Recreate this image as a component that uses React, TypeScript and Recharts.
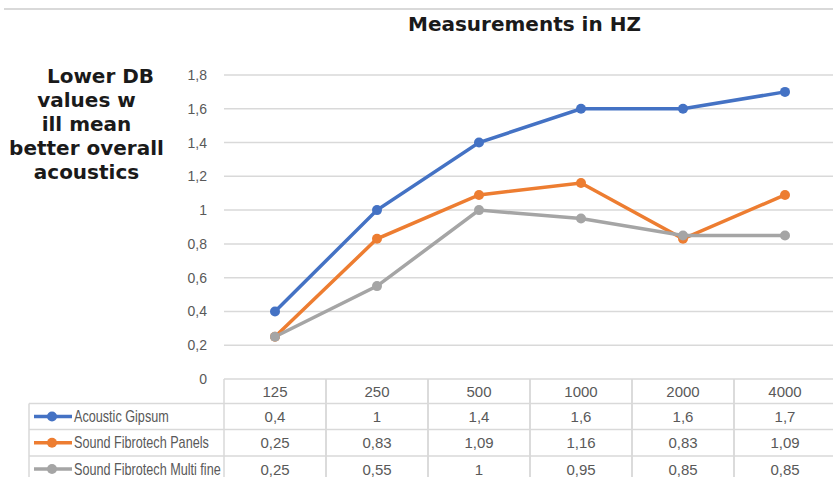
import React from 'react';
import { LineChart, Line, XAxis, YAxis, CartesianGrid } from 'recharts';

const categories = ['125', '250', '500', '1000', '2000', '4000'];
const acousticGipsum = [0.4, 1, 1.4, 1.6, 1.6, 1.7];
const fibrotechPanels = [0.25, 0.83, 1.09, 1.16, 0.83, 1.09];
const fibrotechMulti = [0.25, 0.55, 1, 0.95, 0.85, 0.85];
const yTicks = [0, 0.2, 0.4, 0.6, 0.8, 1, 1.2, 1.4, 1.6, 1.8];

const series = [
  { key: 'gipsum', name: 'Acoustic Gipsum', values: acousticGipsum, color: '#4472C4' },
  { key: 'panels', name: 'Sound Fibrotech Panels', values: fibrotechPanels, color: '#ED7D31' },
  { key: 'multi', name: 'Sound Fibrotech Multi fine', values: fibrotechMulti, color: '#A5A5A5' },
];

const data = categories.map((c, i) => ({
  hz: c,
  gipsum: acousticGipsum[i],
  panels: fibrotechPanels[i],
  multi: fibrotechMulti[i],
}));

const fmt = (v: number) => String(v).replace('.', ',');

const GRID = '#d9d9d9';
const TXT = '#595959';
const ROW_Y = [0, 24.5, 50.5, 77, 103];
const LEGEND_X = 29;

function TableTick(props: any) {
  const { x, y, payload, index, width } = props;
  const band = payload && payload.offset ? payload.offset * 2 : width / categories.length;
  const left = x - band / 2;
  const right = x + band / 2;
  return (
    <g>
      <line x1={left} x2={left} y1={y} y2={y + 110} stroke={GRID} strokeWidth={1.5} />
      <line x1={right} x2={right} y1={y} y2={y + 110} stroke={GRID} strokeWidth={1.5} />
      {ROW_Y.slice(1).map((r) => (
        <line key={r} x1={left} x2={right} y1={y + r} y2={y + r} stroke={GRID} strokeWidth={1.5} />
      ))}
      <text x={x} y={y + 12.5} textAnchor="middle" dominantBaseline="central" fill={TXT}
        fontSize={15} fontFamily="Liberation Sans, Arial, sans-serif">
        {payload.value}
      </text>
      {series.map((s, i) => (
        <text key={s.key} x={x} y={y + (ROW_Y[i + 1] + ROW_Y[i + 2]) / 2} textAnchor="middle"
          dominantBaseline="central" fill={TXT} fontSize={15} fontFamily="Liberation Sans, Arial, sans-serif">
          {fmt(s.values[index])}
        </text>
      ))}
      {index === 0 && (
        <g>
          <line x1={LEGEND_X} x2={LEGEND_X} y1={y + ROW_Y[1]} y2={y + 110} stroke={GRID} strokeWidth={1.5} />
          {ROW_Y.slice(1).map((r) => (
            <line key={r} x1={LEGEND_X} x2={left} y1={y + r} y2={y + r} stroke={GRID} strokeWidth={1.5} />
          ))}
          {series.map((s, i) => {
            const cy = y + (ROW_Y[i + 1] + ROW_Y[i + 2]) / 2;
            return (
              <g key={s.key}>
                <line x1={34} x2={72} y1={cy} y2={cy} stroke={s.color} strokeWidth={3.5} />
                <circle cx={52} cy={cy} r={5} fill={s.color} />
                <text transform={`translate(74, ${cy}) scale(0.79, 1)`} dominantBaseline="central"
                  fill={TXT} fontSize={16} fontFamily="Liberation Sans, Arial, sans-serif">
                  {s.name}
                </text>
              </g>
            );
          })}
        </g>
      )}
    </g>
  );
}

export default function App() {
  return (
    <div style={{ position: 'absolute', left: 0, top: 0, width: 833, height: 477, overflow: 'hidden', background: '#fff' }}>
      <div style={{ position: 'absolute', left: 4, right: 0, top: 8, height: 1.5, background: GRID }} />
      <div style={{
        position: 'absolute', left: 408, top: 12, fontFamily: 'DejaVu Sans, Verdana, sans-serif',
        fontWeight: 'bold', fontSize: 20, lineHeight: '24px', color: '#1a1a1a', whiteSpace: 'nowrap',
      }}>
        Measurements in HZ
      </div>
      <div style={{
        position: 'absolute', left: 0, top: 64, width: 173, textAlign: 'center',
        fontFamily: 'DejaVu Sans, Verdana, sans-serif', fontWeight: 'bold', fontSize: 20,
        lineHeight: '24px', color: '#1a1a1a', whiteSpace: 'nowrap',
      }}>
        <div style={{ paddingLeft: 28 }}>Lower DB</div>
        <div>values w</div>
        <div>ill mean</div>
        <div>better overall</div>
        <div>acoustics</div>
      </div>
      <LineChart width={836} height={477} data={data} margin={{ top: 75, right: 0, bottom: 0, left: 0 }}>
        <CartesianGrid vertical={false} stroke={GRID} strokeWidth={1.5} />
        <XAxis dataKey="hz" scale="band" height={98} axisLine={false} tickLine={false}
          tickSize={0} tickMargin={0} interval={0} tick={<TableTick />} />
        <YAxis domain={[0, 1.8]} ticks={yTicks} width={224} axisLine={false} tickLine={false}
          tickMargin={11} tickFormatter={fmt}
          tick={{ fill: TXT, fontSize: 14, fontFamily: 'Liberation Sans, Arial, sans-serif' }} />
        {series.map((s) => (
          <Line key={s.key} dataKey={s.key} name={s.name} type="linear" stroke={s.color}
            strokeWidth={3.5} dot={{ r: 5, fill: s.color, stroke: s.color, strokeWidth: 0 }}
            activeDot={false} isAnimationActive={false} />
        ))}
      </LineChart>
    </div>
  );
}
